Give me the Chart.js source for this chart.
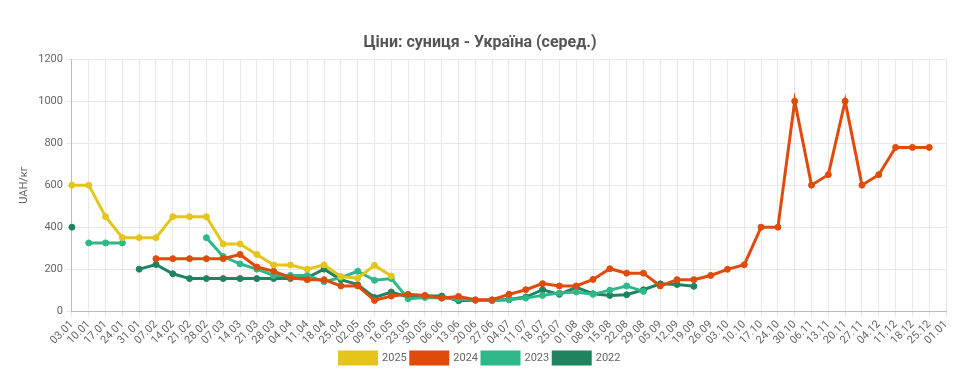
<!DOCTYPE html>
<html>
<head>
<meta charset="utf-8">
<script src="https://cdn.jsdelivr.net/npm/chart.js@4"></script>
<style>
html,body{margin:0;padding:0;background:#fff;}
#wrap{width:976px;height:389px;position:relative;}
</style>
</head>
<body>
<div id="wrap"><canvas id="c" width="976" height="389"></canvas></div>
<script>
const categories = ["03.01","10.01","17.01","24.01","31.01","07.02","14.02","21.02","28.02","07.03","14.03","21.03","28.03","04.04","11.04","18.04","25.04","02.05","09.05","16.05","23.05","30.05","06.06","13.06","20.06","27.06","04.07","11.07","18.07","25.07","01.08","08.08","15.08","22.08","29.08","05.09","12.09","19.09","26.09","03.10","10.10","17.10","24.10","30.10","06.11","13.11","20.11","27.11","04.12","11.12","18.12","25.12","01.01"];

const y2025 = [600,600,450,350,350,350,450,450,450,320,320,270,220,220,200,220,165,157,218,167,null,null,null,null,null,null,null,null,null,null,null,null,null,null,null,null,null,null,null,null,null,null,null,null,null,null,null,null,null,null,null,null,null];
const y2024 = [null,null,null,null,null,250,250,250,250,250,270,210,190,160,150,150,120,120,51,72,80,75,62,70,54,54,80,102,131,120,120,151,202,181,181,120,150,150,170,199,221,400,400,1000,600,650,1000,600,650,780,780,780,null];
const y2023 = [null,325,325,325,null,null,null,null,350,260,225,200,170,170,170,140,160,190,147,155,59,65,62,59,52,50,54,62,75,86,91,80,100,120,94,null,null,null,null,null,null,null,null,null,null,null,null,null,null,null,null,null,null];
const y2022 = [400,null,null,null,200,222,178,155,155,155,155,155,155,155,160,200,150,126,65,91,67,72,72,50,52,52,55,67,102,80,113,83,75,78,102,130,127,118,null,null,null,null,null,null,null,null,null,null,null,null,null,null,null];

const yTicks = [0,200,400,600,800,1000,1200];

const seriesNames = ["2025","2024","2023","2022"];
const seriesColors = ["#E5C519","#E04B0B","#2EB88A","#1E8460"];
const seriesData = [y2025,y2024,y2023,y2022];

const datasets = seriesNames.map((n,i)=>({
  label:n,
  data:seriesData[i],
  borderColor:seriesColors[i],
  backgroundColor:seriesColors[i],
  pointBackgroundColor:seriesColors[i],
  pointBorderColor:seriesColors[i],
  borderWidth:3,
  pointRadius:3,
  pointBorderWidth:1,
  pointHoverRadius:4,
  tension:0,
  spanGaps:false,
  fill:false
}));

Chart.defaults.font.family = "Roboto, 'Noto Sans', sans-serif";
Chart.defaults.color = "#666";

new Chart(document.getElementById('c'),{
  type:'line',
  data:{labels:categories,datasets:datasets},
  options:{
    responsive:false,
    animation:false,
    devicePixelRatio:1,
    layout:{padding:{left:14,right:30,top:27,bottom:15}},
    plugins:{
      title:{display:true,text:"Ціни: суниця - Україна (серед.)",color:"#555",font:{size:16,weight:'bold'},padding:{top:6,bottom:7}},
      legend:{position:'bottom',labels:{boxWidth:37,boxHeight:12,font:{size:11},color:'#666',padding:4}},
      tooltip:{enabled:false}
    },
    scales:{
      x:{
        offset:false,
        grid:{color:'#e8e8e8',tickLength:6},
        border:{color:'#bbb'},
        ticks:{autoSkip:false,maxRotation:45,minRotation:45,font:{size:11},color:'#666',padding:1}
      },
      y:{
        min:0,max:1200,
        afterBuildTicks:(ax)=>{ax.ticks = yTicks.map(v=>({value:v}));},
        grid:{color:'#e8e8e8',tickLength:6},
        border:{color:'#bbb'},
        title:{display:true,text:'UAH/кг',color:'#666',font:{size:11}},
        ticks:{font:{size:11},color:'#666',padding:3,callback:(v)=>String(v)}
      }
    }
  }
});
</script>
</body>
</html>
